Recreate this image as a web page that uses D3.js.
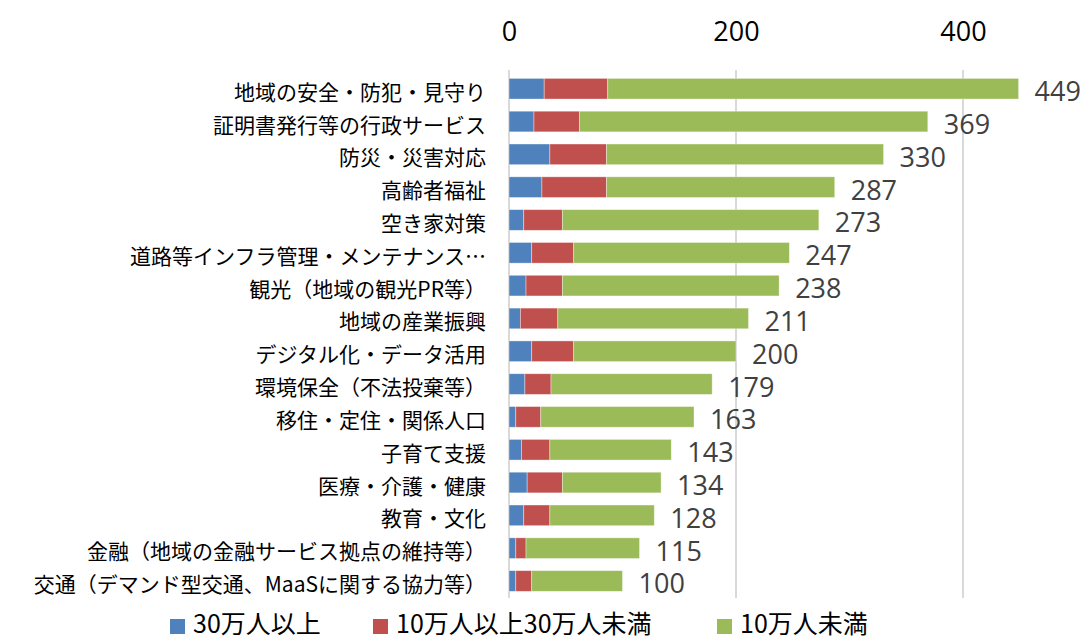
<!DOCTYPE html>
<html lang="ja">
<head>
<meta charset="utf-8">
<script src="https://cdn.jsdelivr.net/npm/d3@7"></script>
<style>
  html, body { margin: 0; padding: 0; background: #fff; }
  svg { display: block; }
  .cat { font-family: "Noto Sans CJK JP", "Noto Sans", sans-serif; }
  .num { font-family: "Open Sans", "Noto Sans", sans-serif; }
</style>
</head>
<body>
<svg id="chart" width="1084" height="639"></svg>
<script>
// Fields of activity (top to bottom)
const categories = [
  "地域の安全・防犯・見守り",
  "証明書発行等の行政サービス",
  "防災・災害対応",
  "高齢者福祉",
  "空き家対策",
  "道路等インフラ管理・メンテナンス…",
  "観光（地域の観光PR等）",
  "地域の産業振興",
  "デジタル化・データ活用",
  "環境保全（不法投棄等）",
  "移住・定住・関係人口",
  "子育て支援",
  "医療・介護・健康",
  "教育・文化",
  "金融（地域の金融サービス拠点の維持等）",
  "交通（デマンド型交通、MaaSに関する協力等）"
];

// Counts by municipality population size
const over300k      = [31, 22, 36, 29, 13, 20, 15, 10, 20, 14,  6, 11, 16, 13,   6,  6];
const from100to300k = [56, 40, 50, 57, 34, 37, 32, 33, 37, 23, 22, 25, 31, 23,   9, 14];
const under100k     = [362, 307, 244, 201, 226, 190, 191, 168, 143, 142, 135, 107, 87, 92, 100, 80];

const seriesNames = ["30万人以上", "10万人以上30万人未満", "10万人未満"];
const seriesColors = ["#4F81BD", "#C0504D", "#9BBB59"];
const tickValues = [0, 200, 400];

const rows = categories.map((c, i) => ({
  cat: c,
  s0: over300k[i],
  s1: from100to300k[i],
  s2: under100k[i]
}));
rows.forEach(r => { r.total = r.s0 + r.s1 + r.s2; });

const svg = d3.select("#chart");

const x = d3.scaleLinear().domain([0, 450]).range([509, 1019.75]);
const y = d3.scaleBand()
  .domain(categories)
  .range([72.3, 597.4])
  .paddingInner(0.37)
  .paddingOuter(0.185);

// Vertical gridlines (the zero line doubles as the category axis)
svg.append("g")
  .selectAll("line")
  .data(tickValues)
  .join("line")
  .attr("x1", d => x(d)).attr("x2", d => x(d))
  .attr("y1", 70).attr("y2", 598)
  .attr("stroke", "#d9d9d9")
  .attr("stroke-width", 2);

// Value axis along the top
const axis = svg.append("g")
  .attr("transform", "translate(0,41)")
  .call(d3.axisTop(x).tickValues(tickValues).tickSize(0).tickPadding(0));
axis.select(".domain").remove();
axis.selectAll("text")
  .attr("class", "num")
  .attr("font-size", 27)
  .attr("fill", "#000")
  .attr("dy", 0);

// Stacked bars
const stack = d3.stack().keys(["s0", "s1", "s2"]);
const layers = stack(rows);

svg.append("g")
  .selectAll("g")
  .data(layers)
  .join("g")
  .attr("fill", (d, i) => seriesColors[i])
  .selectAll("rect")
  .data(d => d)
  .join("rect")
  .attr("x", d => x(d[0]))
  .attr("y", d => y(d.data.cat))
  .attr("width", d => x(d[1]) - x(d[0]))
  .attr("height", y.bandwidth())
  .attr("stroke", "#ffffff")
  .attr("stroke-opacity", 0.5)
  .attr("stroke-width", 0.75);

// Category labels
svg.append("g")
  .selectAll("text")
  .data(rows)
  .join("text")
  .attr("class", "cat")
  .attr("x", 486)
  .attr("y", d => y(d.cat) + y.bandwidth() / 2 + 2)
  .attr("text-anchor", "end")
  .attr("dominant-baseline", "central")
  .attr("font-size", 21)
  .attr("fill", "#000")
  .text(d => d.cat);

// Totals at bar ends
svg.append("g")
  .selectAll("text")
  .data(rows)
  .join("text")
  .attr("class", "num")
  .attr("x", d => x(d.total) + 16)
  .attr("y", d => y(d.cat) + y.bandwidth() / 2 + 2)
  .attr("dominant-baseline", "central")
  .attr("font-size", 27)
  .attr("fill", "#404040")
  .text(d => d.total);

// Legend
const legendX = [170, 373, 717];
const legend = svg.append("g")
  .selectAll("g")
  .data(seriesNames)
  .join("g")
  .attr("transform", (d, i) => `translate(${legendX[i]},0)`);
legend.append("rect")
  .attr("x", 0).attr("y", 619)
  .attr("width", 15).attr("height", 15)
  .attr("fill", (d, i) => seriesColors[i]);
legend.append("text")
  .attr("class", "cat")
  .attr("x", 23)
  .attr("y", 633)
  .attr("font-size", 25)
  .attr("fill", "#000")
  .text(d => d);
</script>
</body>
</html>
